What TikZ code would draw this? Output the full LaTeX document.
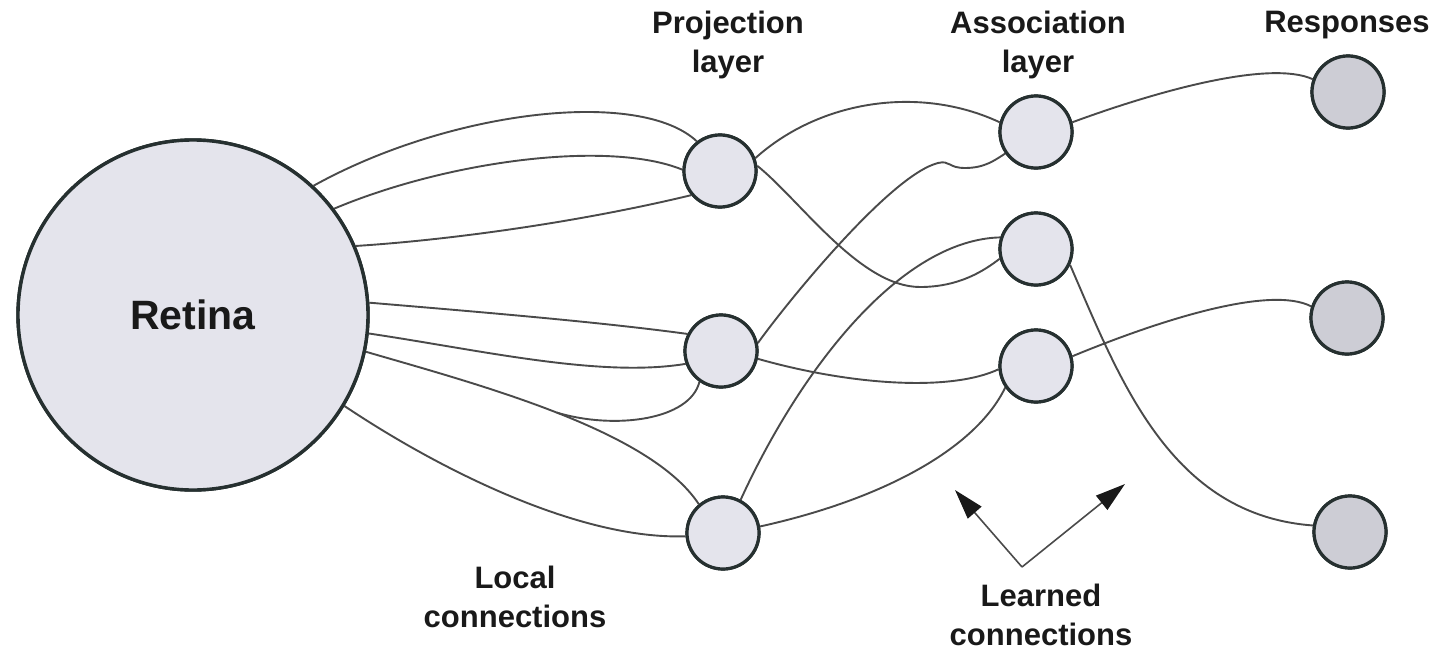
\documentclass[tikz,border=0pt]{standalone}
\usepackage{fontspec}
\setmainfont{Liberation Sans}
\usetikzlibrary{arrows.meta}
\definecolor{cellfill}{HTML}{E4E4EC}
\definecolor{respfill}{HTML}{CDCDD5}
\definecolor{cellline}{HTML}{263030}
\definecolor{wire}{HTML}{4A4A4A}
\tikzset{
  cell/.style={circle, draw=cellline, line width=3.2pt, fill=cellfill, minimum size=72pt, inner sep=0pt},
  resp/.style={cell, fill=respfill},
  retinabox/.style={circle, draw=cellline, line width=3.4pt, fill=cellfill, minimum size=350pt, inner sep=0pt,
     font=\fontsize{41}{48}\selectfont\bfseries, text=black!90},
  lab/.style={font=\fontsize{31}{39}\selectfont\bfseries, align=center, inner sep=0pt, anchor=base, text=black!90},
  wirepath/.style={draw=wire, line width=1.9pt},
  learnarrow/.style={draw=wire, line width=1.6pt, -{Triangle[length=30pt,width=18pt,color=black!90]}},
}
\begin{document}
\begin{tikzpicture}[x=1pt,y=-1pt]
\useasboundingbox (0,0) rectangle (1436,653);

% labels (anchor = baseline of last line)
\node[lab] (lproj) at (728,72) {Projection\\layer};
\node[lab] (lassoc) at (1038,72) {Association\\layer};
\node[lab] (lresp) at (1347,32) {Responses};
\node[lab] (llocal) at (515,627) {Local\\connections};
\node[lab] (llearn) at (1041,645) {Learned\\connections};

\coordinate (retc) at (193,315);
\coordinate (P1c) at (720,171);
\coordinate (P2c) at (721,351);
\coordinate (P3c) at (723,533);
\coordinate (A1c) at (1036,132);
\coordinate (A2c) at (1036,249);
\coordinate (A3c) at (1036,366);
\coordinate (R1c) at (1348,92);
\coordinate (R2c) at (1347,318);
\coordinate (R3c) at (1350,532);

% named nodes (used for anchors)
\node[retinabox] (ret) at (retc) {};
\node[cell] (P1) at (P1c) {};
\node[cell] (P2) at (P2c) {};
\node[cell] (P3) at (P3c) {};
\node[cell] (A1) at (A1c) {};
\node[cell] (A2) at (A2c) {};
\node[cell] (A3) at (A3c) {};
\node[resp] (R1) at (R1c) {};
\node[resp] (R2) at (R2c) {};
\node[resp] (R3) at (R3c) {};

% retina -> projection
\path[wirepath] (ret.47) .. controls (450,110) and (640,88) .. (P1.128);
\path[wirepath] (ret.37) .. controls (450,160) and (610,140) .. (P1.178);
\path[wirepath] (ret.23) .. controls (450,240) and (580,222) .. (P1.220);
\path[wirepath] (ret.4) .. controls (480,312) and (600,322) .. (P2.153);
\path[wirepath] (ret.-6.5) .. controls (480,350) and (600,378) .. (P2.200);
\path[wirepath] (ret.-12) .. controls (480,385) and (650,430) .. coordinate[pos=0.5] (merge) (P3.130);
\path[wirepath] (P2.235) .. controls (690,420) and (615,430) .. (merge);
\path[wirepath] (ret.-31) .. controls (440,470) and (580,540) .. (P3.185);

% projection -> association
\path[wirepath] (P1.20) .. controls (820,100) and (920,85) .. (A1.165);
\path[wirepath] (P1.8) .. controls (800,200) and (860,287) .. (920,287) .. controls (960,287) and (985,270) .. (A2.195);
\path[wirepath] (P2.12) .. controls (785,305) and (890,175) .. (938,163) .. controls (950,160) and (948,168) .. (965,168) .. controls (985,168) and (995,160) .. (A1.215);
\path[wirepath] (P2.-12) .. controls (850,385) and (950,392) .. (A3.185);
\path[wirepath] (P3.62) .. controls (800,370) and (900,240) .. (A2.162);
\path[wirepath] (P3.10) .. controls (880,500) and (975,450) .. (A3.215);

% association -> responses
\path[wirepath] (A1.15) .. controls (1160,90) and (1270,60) .. (R1.160);
\path[wirepath] (A3.15) .. controls (1160,320) and (1270,285) .. (R2.162);
\path[wirepath] (A2.-25) .. controls (1120,380) and (1170,515) .. (R3.170);

% redraw nodes on top of wires
\node[retinabox] (retlabel) at (retc) {Retina};
\node[cell] (P1top) at (P1c) {};
\node[cell] (P2top) at (P2c) {};
\node[cell] (P3top) at (P3c) {};
\node[cell] (A1top) at (A1c) {};
\node[cell] (A2top) at (A2c) {};
\node[cell] (A3top) at (A3c) {};
\node[resp] (R1top) at (R1c) {};
\node[resp] (R2top) at (R2c) {};
\node[resp] (R3top) at (R3c) {};

% learned connection arrows
\coordinate (vtx) at (1022,567);
\coordinate (ltip) at (955,490);
\coordinate (rtip) at (1125,484);
\draw[learnarrow] (vtx) -- (ltip);
\draw[learnarrow] (vtx) -- (rtip);
\end{tikzpicture}
\end{document}
